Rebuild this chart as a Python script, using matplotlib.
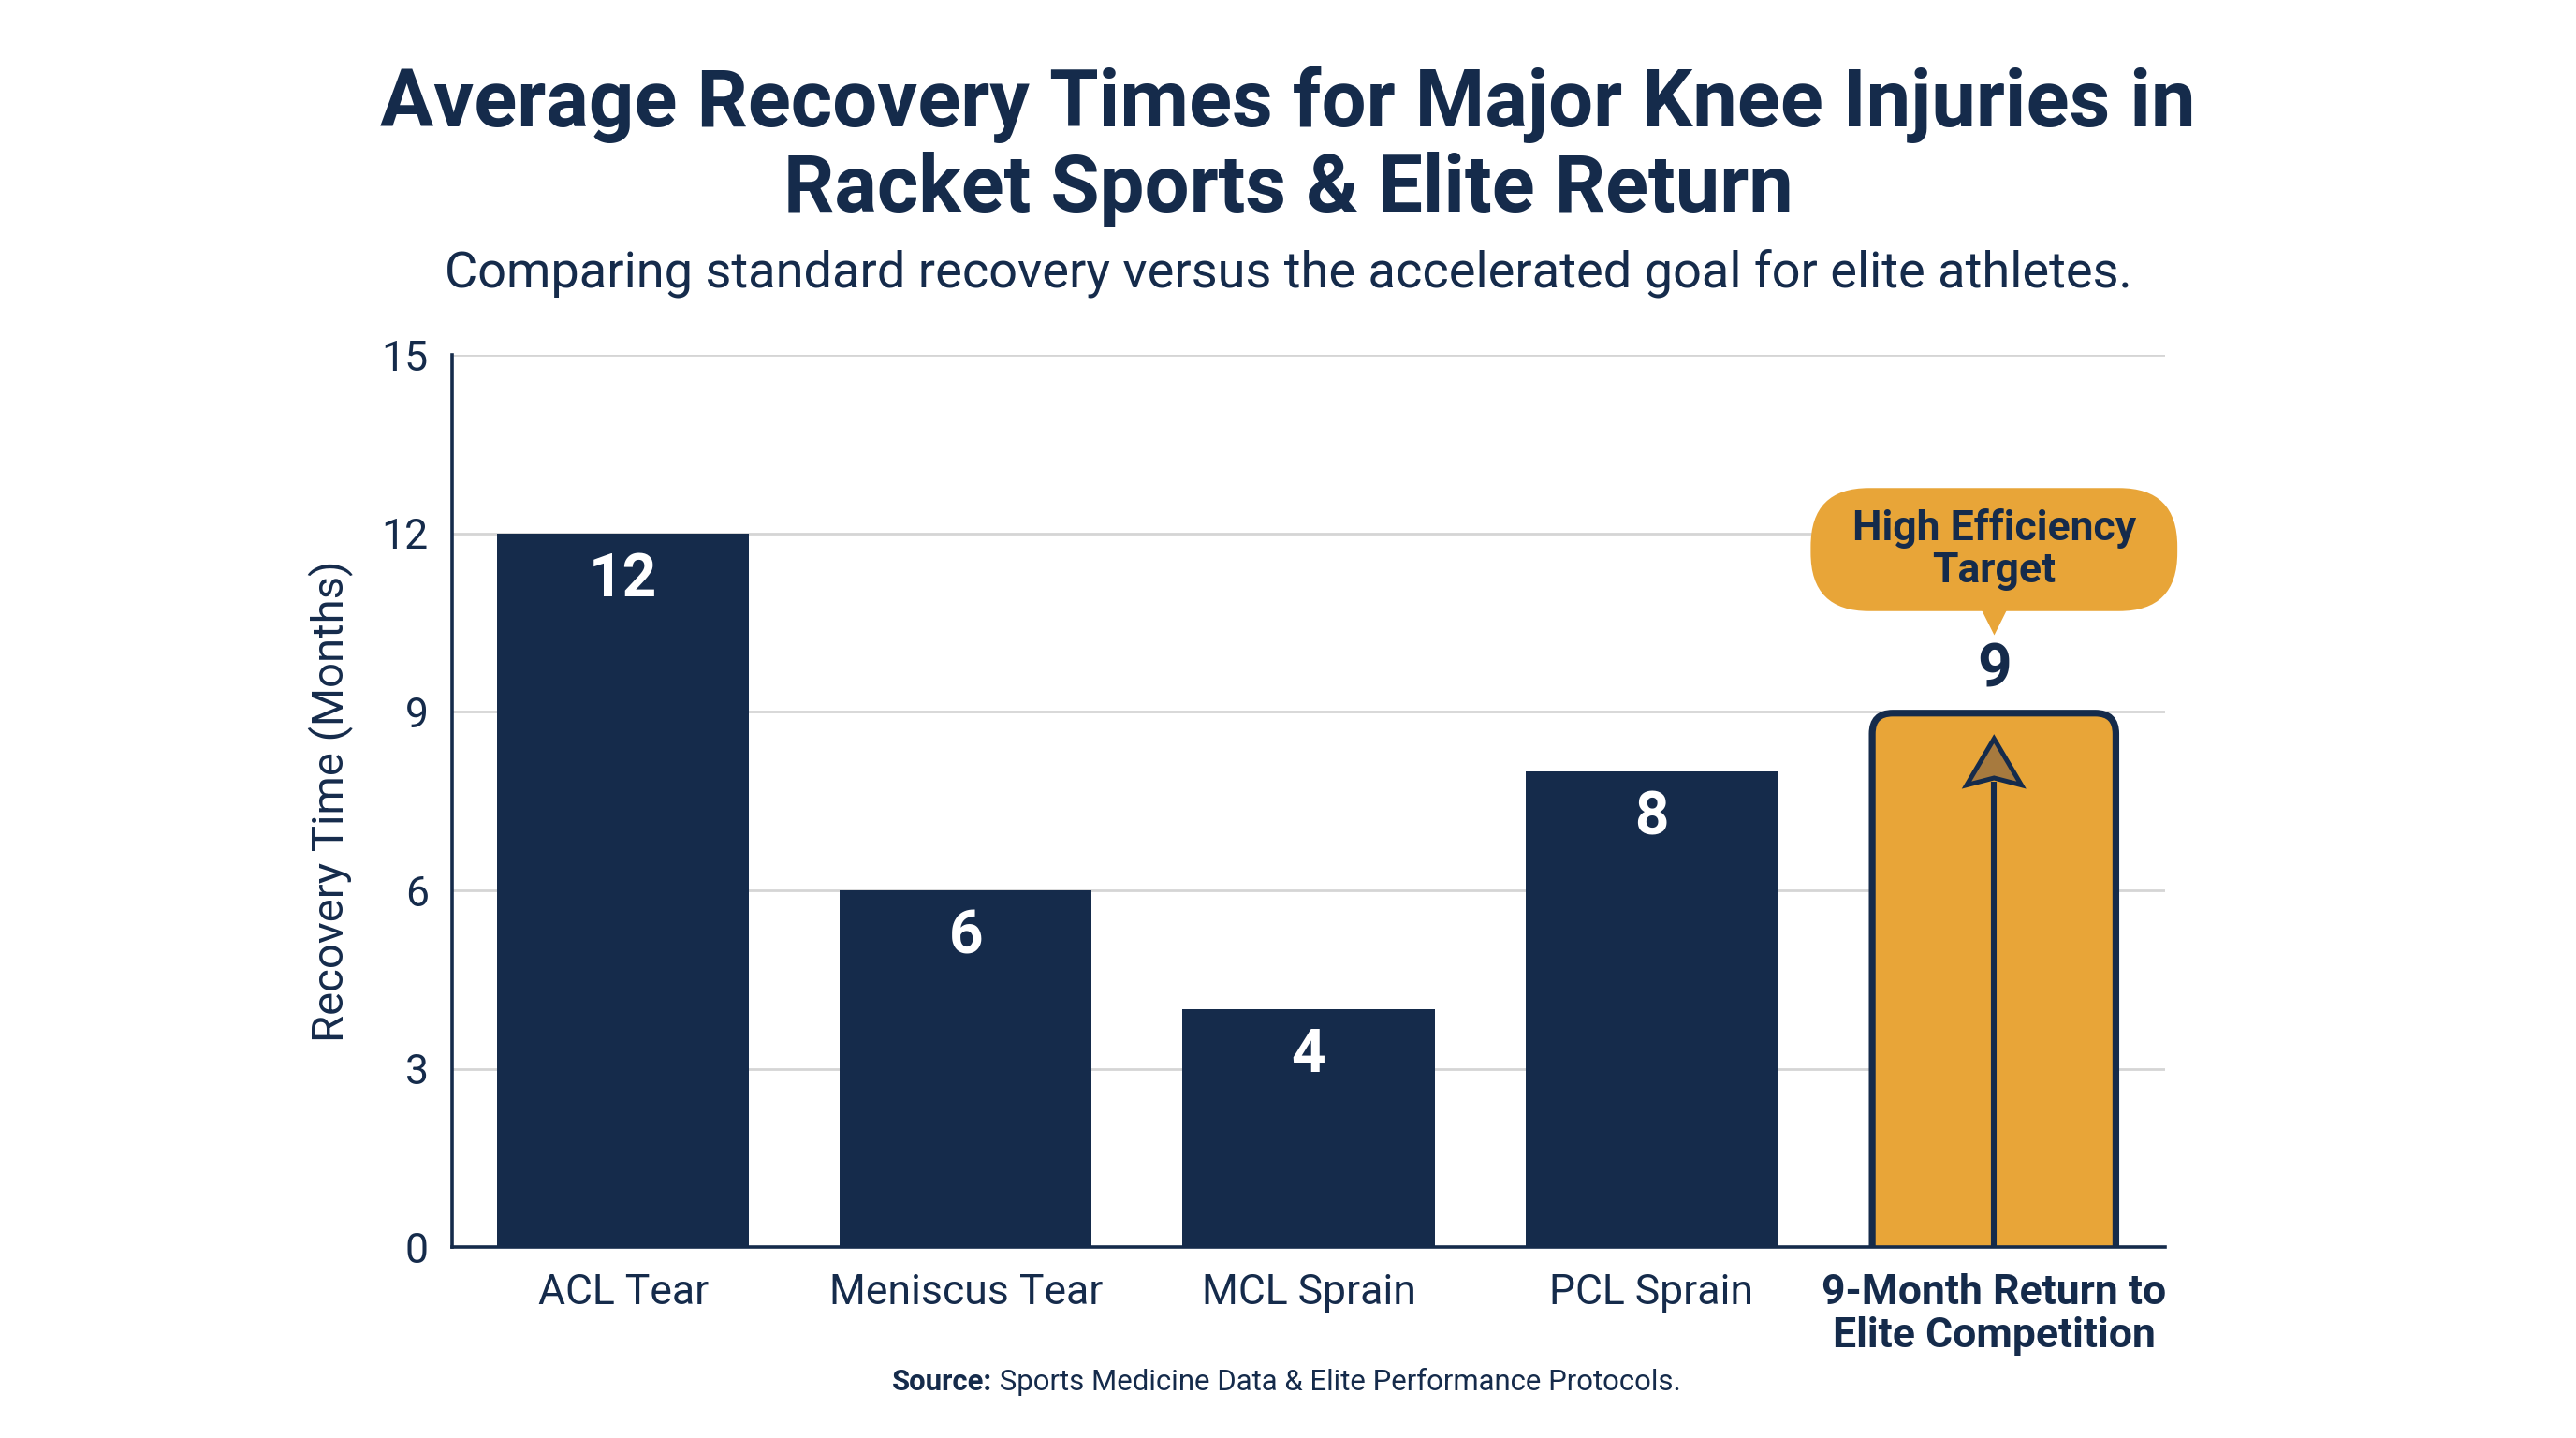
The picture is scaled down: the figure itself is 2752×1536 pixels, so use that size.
import matplotlib
matplotlib.use("Agg")
import matplotlib.pyplot as plt
from matplotlib.patches import FancyBboxPatch, Polygon
import numpy as np

plt.rcParams['font.family'] = ['Roboto', 'DejaVu Sans']

# data
injuries = ["ACL Tear", "Meniscus Tear", "MCL Sprain", "PCL Sprain",
            "9-Month Return to\nElite Competition"]
months = [12, 6, 4, 8, 9]
y_ticks = [0, 3, 6, 9, 12, 15]

title = "Average Recovery Times for Major Knee Injuries in\nRacket Sports & Elite Return"
subtitle = "Comparing standard recovery versus the accelerated goal for elite athletes."
callout = "High Efficiency\nTarget"
source_bold = "Source:"
source_rest = " Sports Medicine Data & Elite Performance Protocols."

navy = "#152B4B"
orange = "#E8A538"
grid_c = "#D5D5D5"

fig = plt.figure(figsize=(13.76, 7.68), dpi=200)
ax = fig.add_axes([0.1754, 0.1326, 0.6652, 0.6205])

x = np.arange(len(injuries))
bars = ax.bar(x, months, width=0.735, color=navy, zorder=3)

ax.set_xlim(-0.5, len(injuries) - 0.5)
ax.set_ylim(0, 15)
ax.set_yticks(y_ticks)
ax.set_xticks(x)
ax.set_xticklabels(injuries)
ax.grid(axis='y', color=grid_c, linewidth=1.0, zorder=0)
ax.set_axisbelow(True)
for s in ['top', 'right']:
    ax.spines[s].set_visible(False)
for s in ['left', 'bottom']:
    ax.spines[s].set_color(navy)
    ax.spines[s].set_linewidth(1.3)
    ax.spines[s].set_zorder(5)
ax.tick_params(axis='both', length=0, labelsize=16, colors=navy)
ax.tick_params(axis='y', pad=9)
ax.tick_params(axis='x', pad=10)
ax.set_ylabel("Recovery Time (Months)", fontsize=17, color=navy, labelpad=11)

# y-units per x-unit in display space, used to keep corners circular
aspect = (208.5 / 36.2)

# highlight last bar: rounded top, orange, navy edge
hl = bars[-1]
hl.set_visible(False)
bx, bw, bh = hl.get_x(), hl.get_width(), hl.get_height()
inset = 0.012
rbar = FancyBboxPatch((bx + inset, -2), bw - 2 * inset, bh + 2 - 0.02,
                      boxstyle="round,pad=0,rounding_size=0.06",
                      mutation_aspect=aspect, fc=orange, ec=navy,
                      lw=2.6, zorder=4, clip_on=True)
ax.add_patch(rbar)

# arrow inside highlighted bar
cx = x[-1]
tip = months[-1] - 0.45
head_h = 0.78
head_w = 0.08
ax.plot([cx, cx], [0, tip - head_h + 0.05], color=navy, lw=2.2, zorder=6,
        solid_capstyle='butt')
ax.add_patch(Polygon([[cx - head_w, tip - head_h], [cx, tip], [cx + head_w, tip - head_h],
                      [cx, tip - head_h + 0.12]], closed=True,
                     fc="#A77A3E", ec=navy, lw=1.8, zorder=7, joinstyle='miter'))

# value labels
for i, v in enumerate(months):
    if i == len(months) - 1:
        ax.text(i, v + 0.7, str(v), ha='center', va='center', fontsize=23,
                fontweight='bold', color=navy, zorder=8)
    else:
        ax.text(i, v - 0.78, str(v), ha='center', va='center', fontsize=23,
                fontweight='bold', color='white', zorder=8)

# callout bubble (pill + pointer)
bub_y = months[-1] + 2.73
bub_w, bub_h = 1.07, 2.07
ax.add_patch(FancyBboxPatch((cx - bub_w / 2, bub_y - bub_h / 2), bub_w, bub_h,
                            boxstyle="round,pad=0,rounding_size=0.17",
                            mutation_aspect=aspect, fc=orange, ec='none',
                            zorder=8, clip_on=False))
ax.plot([cx], [bub_y - bub_h / 2 - 0.12], marker='v', markersize=13, color=orange,
        markeredgecolor='none', clip_on=False, zorder=8)
ax.text(cx, bub_y, callout, ha='center', va='center', fontsize=16,
        fontweight='bold', color=navy, linespacing=1.1, zorder=9, clip_on=False)

# last tick label bold
lbls = ax.get_xticklabels()
lbls[-1].set_fontweight('bold')
lbls[-1].set_linespacing(1.12)

# titles
fig.text(0.5, 0.898, title, ha='center', va='center', fontsize=30.6, fontweight='bold',
         color=navy, linespacing=1.14)
fig.text(0.5, 0.810, subtitle, ha='center', va='center', fontsize=19.5, color=navy)

# source line, bold prefix + regular
t1 = fig.text(0.5, 0.039, source_bold, ha='left', va='center', fontsize=11.2,
              fontweight='bold', color=navy)
t2 = fig.text(0.5, 0.039, source_rest, ha='left', va='center', fontsize=11.2,
              color=navy)
fig.canvas.draw()
r = fig.canvas.get_renderer()
w1 = t1.get_window_extent(r).width / fig.bbox.width
w2 = t2.get_window_extent(r).width / fig.bbox.width
start = 0.4995 - (w1 + w2) / 2
t1.set_x(start)
t2.set_x(start + w1)

fig.savefig("out.png", dpi=200, facecolor='white')
